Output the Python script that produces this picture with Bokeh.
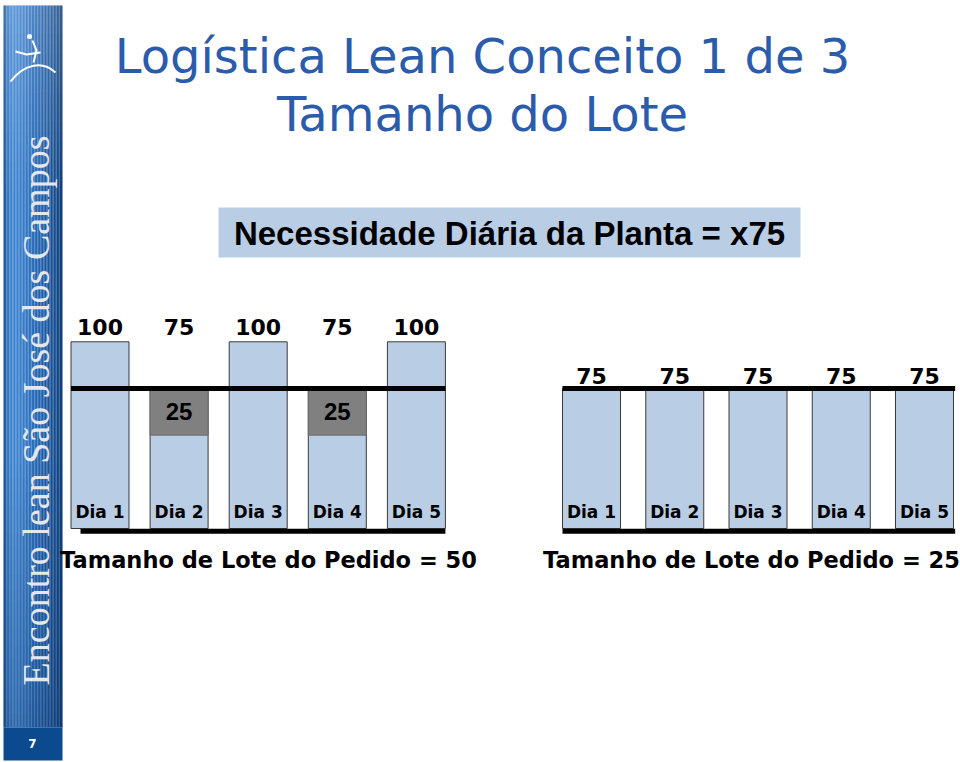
import numpy as np
from bokeh.plotting import figure
from bokeh.models import Range1d, ColumnDataSource
from bokeh.core.properties import value
from bokeh.embed import file_html
from bokeh.resources import INLINE

# ---------------- data ----------------
dias = ["Dia 1", "Dia 2", "Dia 3", "Dia 4", "Dia 5"]
dia_idx = [1, 2, 3, 4, 5]
necessidade = 75                     # Necessidade diária da planta
entrega_lote50 = [100, 75, 100, 75, 100]   # lote do pedido = 50
falta_lote50 = [0, 25, 0, 25, 0]
entrega_lote25 = [75, 75, 75, 75, 75]      # lote do pedido = 25

titulo1 = "Logística Lean Conceito 1 de 3"
titulo2 = "Tamanho do Lote"
caixa_txt = "Necessidade Diária da Planta = x75"
legenda_esq = "Tamanho de Lote do Pedido = 50"
legenda_dir = "Tamanho de Lote do Pedido = 25"
faixa_txt = "Encontro lean São José dos Campos"
pagina = "7"

# ---------------- layout constants (pixels) ----------------
W, H = 960, 762
BASE_PX = 528.0          # pixel row of value 0
PX_PER_UNIT = 1.867      # vertical scale of the bar charts
L_X1, L_STEP = 99.5, 79.1
R_X1, R_STEP = 591.0, 83.25
BAR_W_PX = 58.0

BAR_FILL = "#b9cde5"
BAR_LINE = "#3a3a3a"

p = figure(width=W, height=H, x_range=Range1d(0, W), y_range=Range1d(H, 0),
           x_axis_type=None, y_axis_type=None, toolbar_location=None,
           output_backend="svg", min_border=0)
p.grid.visible = False
p.outline_line_color = None
p.background_fill_color = "white"
p.border_fill_color = "white"

# chart ranges (value units / day index)
p.extra_y_ranges = {"u": Range1d(start=(BASE_PX - H) / PX_PER_UNIT, end=BASE_PX / PX_PER_UNIT)}
p.extra_x_ranges = {
    "dL": Range1d(start=1 - L_X1 / L_STEP, end=1 + (W - L_X1) / L_STEP),
    "dR": Range1d(start=1 - R_X1 / R_STEP, end=1 + (W - R_X1) / R_STEP),
}

# ---------------- sidebar ----------------
n = 40
xs = np.linspace(3, 62, n + 1)
prof_pos = [0.0, 0.06, 0.15, 0.45, 0.7, 0.9, 1.0]
prof_hex = ["#164a86", "#2f74c0", "#3f86d3", "#2f73c0", "#1e5ca6", "#134a8c", "#0b3a74"]
prof_rgb = [tuple(int(h[i:i + 2], 16) for i in (1, 3, 5)) for h in prof_hex]
cols = []
for i in range(n):
    t = (i + 0.5) / n
    rgb = [int(np.interp(t, prof_pos, [c[k] for c in prof_rgb])) for k in range(3)]
    cols.append("#%02x%02x%02x" % tuple(rgb))
p.quad(left=xs[:-1], right=xs[1:], top=[5] * n, bottom=[727] * n,
       fill_color=cols, line_color=None)
# smooth vertical shading: lighter top, darker bottom
nb = 20
tops = np.linspace(5, 200, nb + 1)
p.quad(left=[3] * nb, right=[62] * nb, top=tops[:-1], bottom=tops[1:],
       fill_color="white", fill_alpha=list(np.linspace(0.16, 0.0, nb)), line_color=None)
bots = np.linspace(450, 727, nb + 1)
p.quad(left=[3] * nb, right=[62] * nb, top=bots[:-1], bottom=bots[1:],
       fill_color="#0a2f60", fill_alpha=list(np.linspace(0.0, 0.3, nb)), line_color=None)
p.quad(left=[3], right=[62], top=[727], bottom=[760], fill_color="#0c4a8f",
       line_color=None)
p.text(x=[32], y=[743], text=[pagina], text_color="white",
       text_font=value("DejaVu Sans"), text_font_style="bold",
       text_font_size="12px", text_align="center", text_baseline="middle")
p.text(x=[35], y=[410], text=[faixa_txt], angle=np.pi / 2,
       text_color="#e4e7ec", text_font=value("Liberation Serif"),
       text_font_size="38px", text_align="center", text_baseline="middle")
# logo
p.bezier(x0=[10], y0=[81], x1=[55], y1=[72], cx0=[24], cy0=[63], cx1=[42], cy1=[60],
         line_color="white", line_width=2)
p.line(x=[15, 26, 40], y=[51, 54, 52], line_color="white", line_width=2)
p.line(x=[32, 36, 33], y=[40, 50, 62], line_color="white", line_width=2)
p.circle(x=[29], y=[36], radius=2.5, fill_color="white", line_color=None)

# ---------------- title ----------------
p.text(x=[482, 482], y=[55, 113], text=[titulo1, titulo2], text_color="#2b5cab",
       text_font=value("DejaVu Sans"), text_font_size="48px",
       text_align="center", text_baseline="middle")

# ---------------- box ----------------
p.quad(left=[218], right=[800], top=[207], bottom=[257], fill_color=BAR_FILL,
       line_color=None)
p.text(x=[509], y=[233], text=[caixa_txt], text_color="black",
       text_font=value("Liberation Sans"), text_font_style="bold",
       text_font_size="33px", text_align="center", text_baseline="middle")

# ---------------- left chart (lote 50) ----------------
wL = BAR_W_PX / L_STEP
srcL = ColumnDataSource(dict(x=dia_idx, top=entrega_lote50, lab=[str(v) for v in entrega_lote50],
                             dia=dias))
p.vbar(x="x", top="top", bottom=0, width=wL, source=srcL, fill_color=BAR_FILL,
       line_color=BAR_LINE, line_width=1, x_range_name="dL", y_range_name="u")
g_idx = [i for i, f in enumerate(falta_lote50) if f > 0]
srcG = ColumnDataSource(dict(x=[dia_idx[i] for i in g_idx],
                             top=[necessidade] * len(g_idx),
                             bot=[necessidade - falta_lote50[i] for i in g_idx],
                             mid=[necessidade - falta_lote50[i] / 2 for i in g_idx],
                             lab=[str(falta_lote50[i]) for i in g_idx]))
p.vbar(x="x", top="top", bottom="bot", width=wL, source=srcG, fill_color="#808080",
       line_color="#6a6a6a", line_width=1, x_range_name="dL", y_range_name="u")
p.text(x="x", y="mid", text="lab", source=srcG, text_color="black",
       text_font=value("Liberation Sans"), text_font_style="bold", text_font_size="24px",
       text_align="center", text_baseline="middle", x_range_name="dL", y_range_name="u")
p.segment(x0=[dia_idx[0] - wL / 2], x1=[dia_idx[-1] + wL / 2], y0=[necessidade],
          y1=[necessidade], line_color="black", line_width=5,
          x_range_name="dL", y_range_name="u")
p.segment(x0=[dia_idx[0] - wL / 2 + 0.12], x1=[dia_idx[-1] + wL / 2], y0=[-1.5],
          y1=[-1.5], line_color="black", line_width=5,
          x_range_name="dL", y_range_name="u")
p.text(x="x", y=max(entrega_lote50) + 8, text="lab", source=srcL, text_color="black",
       text_font=value("DejaVu Sans"), text_font_style="bold", text_font_size="22px",
       text_align="center", text_baseline="middle", x_range_name="dL", y_range_name="u")
p.text(x="x", y=8.6, text="dia", source=srcL, text_color="black",
       text_font=value("DejaVu Sans"), text_font_style="bold", text_font_size="17px",
       text_align="center", text_baseline="middle", x_range_name="dL", y_range_name="u")

# ---------------- right chart (lote 25) ----------------
wR = BAR_W_PX / R_STEP
srcR = ColumnDataSource(dict(x=dia_idx, top=entrega_lote25, lab=[str(v) for v in entrega_lote25],
                             dia=dias))
p.vbar(x="x", top="top", bottom=0, width=wR, source=srcR, fill_color=BAR_FILL,
       line_color=BAR_LINE, line_width=1, x_range_name="dR", y_range_name="u")
p.segment(x0=[dia_idx[0] - wR / 2], x1=[dia_idx[-1] + wR / 2 + 0.02], y0=[necessidade],
          y1=[necessidade], line_color="black", line_width=5,
          x_range_name="dR", y_range_name="u")
p.segment(x0=[dia_idx[0] - wR / 2], x1=[dia_idx[-1] + wR / 2 + 0.02], y0=[-1.5],
          y1=[-1.5], line_color="black", line_width=5,
          x_range_name="dR", y_range_name="u")
p.text(x="x", y="top", text="lab", source=srcR, text_color="black",
       text_font=value("DejaVu Sans"), text_font_style="bold", text_font_size="22px",
       text_align="center", text_baseline="middle", y_offset=-12,
       x_range_name="dR", y_range_name="u")
p.text(x="x", y=8.6, text="dia", source=srcR, text_color="black",
       text_font=value("DejaVu Sans"), text_font_style="bold", text_font_size="17px",
       text_align="center", text_baseline="middle", x_range_name="dR", y_range_name="u")

# ---------------- captions ----------------
p.text(x=[268, 751], y=[559, 559], text=[legenda_esq, legenda_dir], text_color="black",
       text_font=value("DejaVu Sans"), text_font_style="bold", text_font_size="22.5px",
       text_align="center", text_baseline="middle")

open("out.html", "w").write(file_html(p, INLINE))
